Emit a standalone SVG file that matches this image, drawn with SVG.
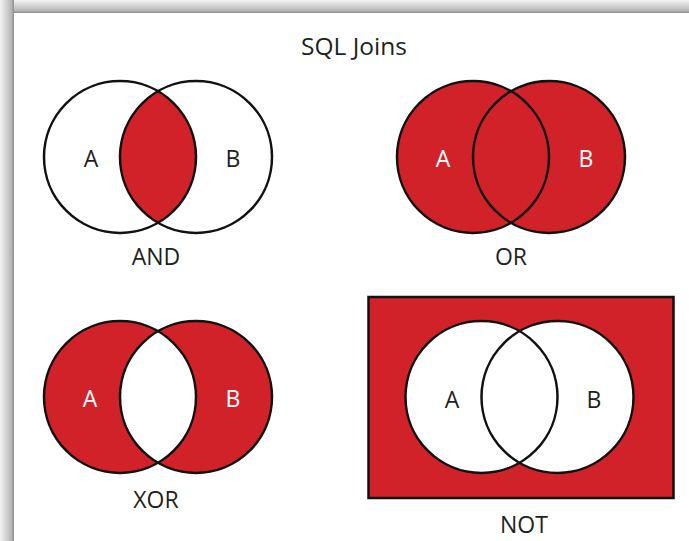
<svg xmlns="http://www.w3.org/2000/svg" width="689" height="541" viewBox="0 0 689 541">
<defs>
<linearGradient id="gl" x1="0" y1="0" x2="1" y2="0"><stop offset="0" stop-color="#f4f4f4"/><stop offset="0.8" stop-color="#b8b8b8"/><stop offset="1" stop-color="#8e8e8e"/></linearGradient>
<linearGradient id="gt" x1="0" y1="0" x2="0" y2="1"><stop offset="0" stop-color="#f4f4f4"/><stop offset="0.8" stop-color="#b8b8b8"/><stop offset="1" stop-color="#8e8e8e"/></linearGradient>
<style>
.c{fill:none;stroke:#111;stroke-width:2.5}
.r{fill:#d1222a}
.w{fill:#fff}
text{font-family:"Open Sans","Liberation Sans",sans-serif;text-anchor:middle;fill:#231f20}
.lbl{font-size:23px}
.cap{font-size:23px}
.inv{fill:#fff}
</style>
</defs>
<rect width="689" height="541" fill="#fff"/>
<g id="frame">
<rect x="0" y="0" width="689" height="13" fill="url(#gt)"/>
<rect x="0" y="0" width="14" height="541" fill="url(#gl)"/>
<rect x="14" y="13" width="675" height="528" fill="#fff"/>
</g>
<text id="title" x="354" y="55" style="font-size:24.5px">SQL Joins</text>
<g id="and">
<circle cx="120" cy="157" r="76" class="w"/>
<circle cx="196" cy="157" r="76" class="w"/>
<path class="r" d="M158,91.2 A76,76 0 0,1 158,222.8 A76,76 0 0,1 158,91.2Z"/>
<circle cx="120" cy="157" r="76" class="c"/>
<circle cx="196" cy="157" r="76" class="c"/>
<text x="91" y="167" class="lbl">A</text>
<text x="233" y="167" class="lbl">B</text>
<text x="156" y="265" class="cap">AND</text>
</g>
<g id="or">
<circle cx="473" cy="157" r="76" class="r"/>
<circle cx="549" cy="157" r="76" class="r"/>
<circle cx="473" cy="157" r="76" class="c"/>
<circle cx="549" cy="157" r="76" class="c"/>
<text x="443" y="167" class="lbl inv">A</text>
<text x="586" y="167" class="lbl inv">B</text>
<text x="511" y="265" class="cap">OR</text>
</g>
<g id="xor">
<circle cx="120" cy="397" r="76" class="r"/>
<circle cx="196" cy="397" r="76" class="r"/>
<path class="w" d="M158,331.2 A76,76 0 0,1 158,462.8 A76,76 0 0,1 158,331.2Z"/>
<circle cx="120" cy="397" r="76" class="c"/>
<circle cx="196" cy="397" r="76" class="c"/>
<text x="90" y="407" class="lbl inv">A</text>
<text x="233" y="407" class="lbl inv">B</text>
<text x="156" y="508" class="cap">XOR</text>
</g>
<g id="not">
<rect x="368.5" y="297" width="305" height="201" class="r" stroke="#111" stroke-width="2.5"/>
<circle cx="481.5" cy="397" r="76" class="w"/>
<circle cx="557.5" cy="397" r="76" class="w"/>
<circle cx="481.5" cy="397" r="76" class="c"/>
<circle cx="557.5" cy="397" r="76" class="c"/>
<text x="452" y="408" class="lbl">A</text>
<text x="594" y="408" class="lbl">B</text>
<text x="524" y="533" class="cap">NOT</text>
</g>
</svg>
